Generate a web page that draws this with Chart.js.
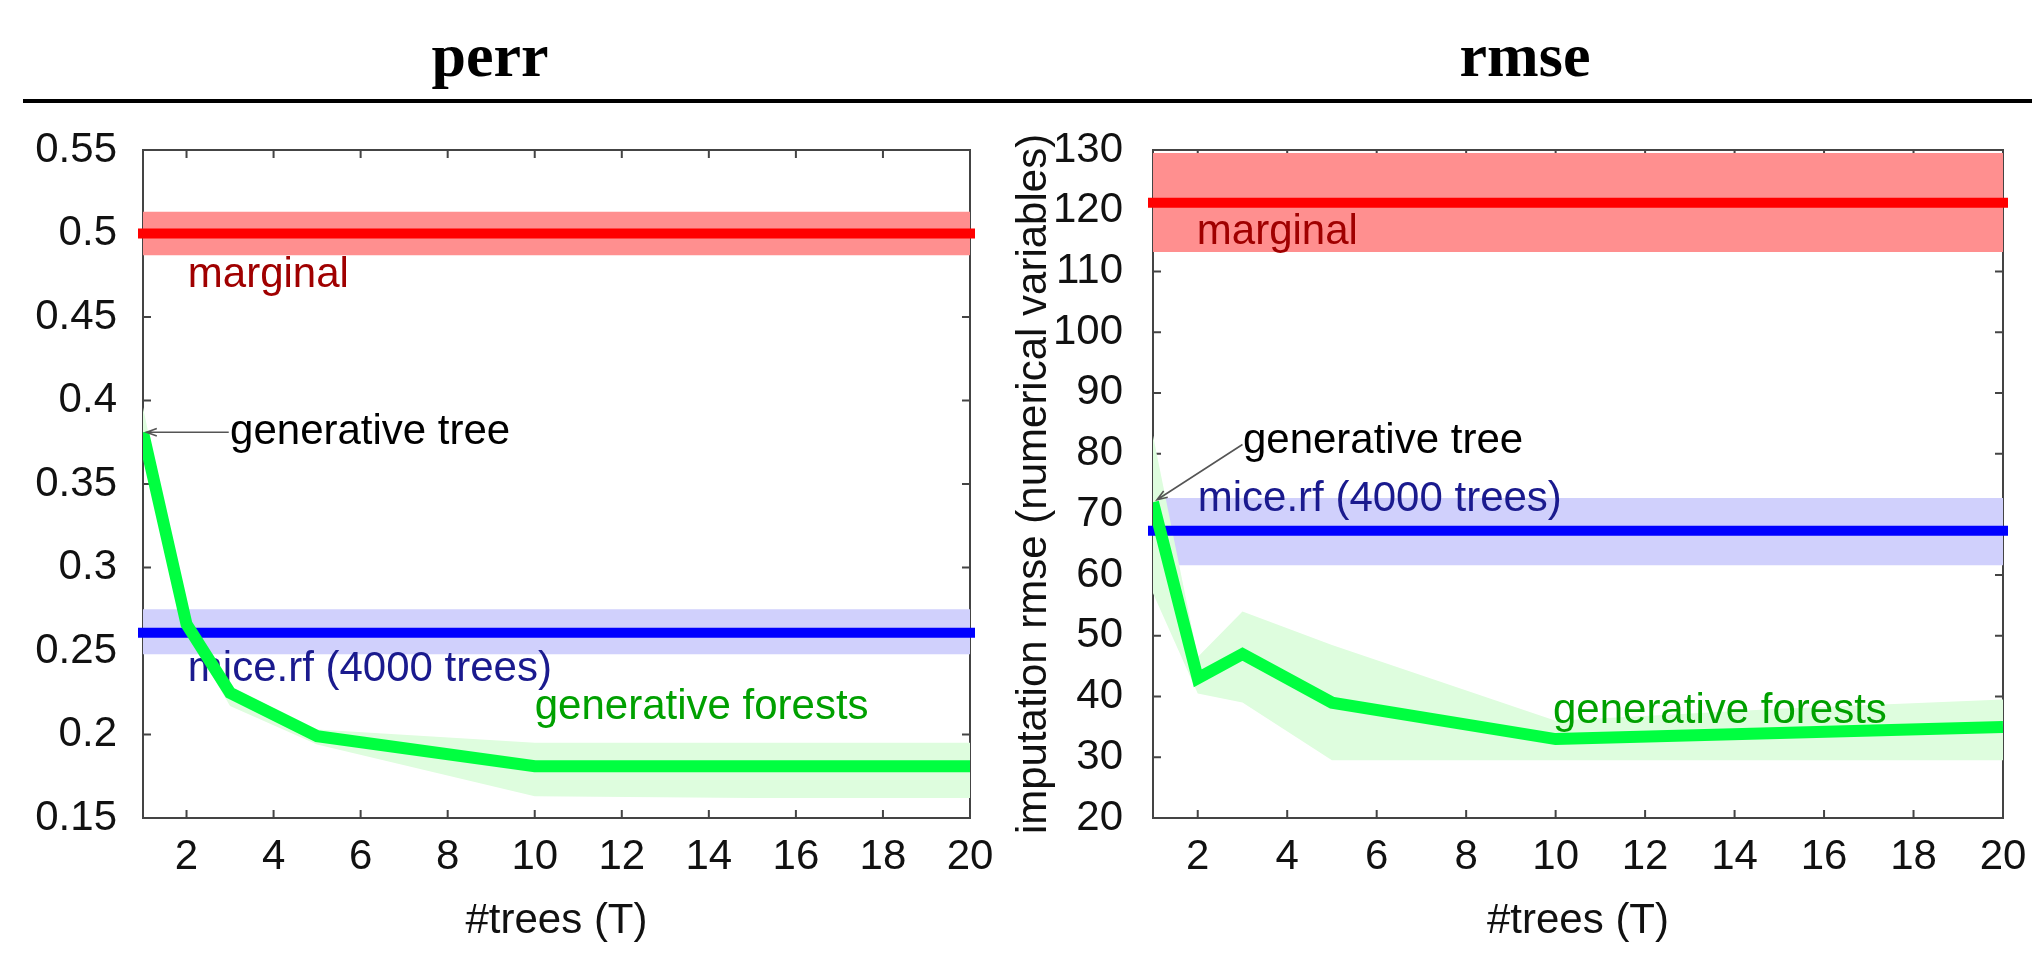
<!DOCTYPE html>
<html><head><meta charset="utf-8">
<script src="https://cdn.jsdelivr.net/npm/chart.js@4"></script>
<style>
body{margin:0;background:#fff;width:2032px;height:953px;overflow:hidden;position:relative;font-family:"Liberation Sans",Arial,sans-serif}
.title{position:absolute;top:24px;font-family:"Liberation Serif","Times New Roman",serif;font-weight:bold;font-size:62px;line-height:1;transform:translateX(-50%);color:#000}
#rule{position:absolute;left:23px;right:0;top:99px;height:4px;background:#000}
canvas{position:absolute}
</style></head><body>
<div class="title" style="left:490px">perr</div>
<div class="title" style="left:1525px">rmse</div>
<div id="rule"></div>
<canvas id="c1" width="1000" height="833" style="left:0;top:120px"></canvas>
<canvas id="c2" width="1032" height="833" style="left:1000px;top:120px"></canvas>
<script>
// ---------- data ----------
const treeCounts = [1, 2, 3, 5, 10, 15, 20];
const xTickValues = [2, 4, 6, 8, 10, 12, 14, 16, 18, 20];
const xRange = [1, 20];

// perr panel
const perrTicks = [0.15, 0.2, 0.25, 0.3, 0.35, 0.4, 0.45, 0.5, 0.55];
const perrForest = [0.381, 0.266, 0.225, 0.199, 0.181, 0.181, 0.181];
const perrForestHi = [0.396, 0.271, 0.229, 0.203, 0.195, 0.195, 0.195];
const perrForestLo = [0.368, 0.262, 0.217, 0.194, 0.163, 0.162, 0.162];
const perrMarginal = 0.5, perrMarginalLo = 0.487, perrMarginalHi = 0.513;
const perrMice = 0.261, perrMiceLo = 0.248, perrMiceHi = 0.275;

// rmse panel
const rmseTicks = [20, 30, 40, 50, 60, 70, 80, 90, 100, 110, 120, 130];
const rmseForest = [72, 43, 47, 39, 33, 34, 35];
const rmseForestHi = [83, 46.5, 54, 48.5, 36, 38, 39.5];
const rmseForestLo = [57, 40.5, 39, 29.5, 29.5, 29.5, 29.5];
const rmseMarginal = 121.3, rmseMarginalLo = 113.2, rmseMarginalHi = 129.5;
const rmseMice = 67.3, rmseMiceLo = 61.6, rmseMiceHi = 72.7;

// ---------- helpers ----------
const FONT = '"Liberation Sans", Arial, sans-serif';
const pts = (xs, ys) => xs.map((x, i) => ({x, y: ys[i]}));
const flat = v => xRange.map(x => ({x, y: v}));

const framePlugin = {
  id: 'frame',
  beforeDatasetsDraw(chart) {
    const {ctx, chartArea: a, scales: {x, y}} = chart;
    ctx.save();
    ctx.strokeStyle = '#444'; ctx.lineWidth = 2;
    ctx.strokeRect(a.left, a.top, a.right - a.left, a.bottom - a.top);
    ctx.beginPath();
    x.ticks.forEach(t => {
      const p = x.getPixelForValue(t.value);
      ctx.moveTo(p, a.bottom); ctx.lineTo(p, a.bottom - 8);
      ctx.moveTo(p, a.top); ctx.lineTo(p, a.top + 8);
    });
    y.ticks.forEach(t => {
      const p = y.getPixelForValue(t.value);
      ctx.moveTo(a.left, p); ctx.lineTo(a.left + 8, p);
      ctx.moveTo(a.right, p); ctx.lineTo(a.right - 8, p);
    });
    ctx.stroke();
    ctx.restore();
  }
};

const annotPlugin = {
  id: 'annot',
  afterDatasetDraw(chart, args, opts) {
    const ds = chart.data.datasets[args.index];
    if (!ds.labelsAfter) return;
    const {ctx, scales: {x, y}} = chart;
    ctx.save();
    ctx.font = '42px ' + FONT;
    ctx.textBaseline = 'middle'; ctx.textAlign = 'left';
    (opts.labels || []).forEach(l => {
      ctx.fillStyle = l.color;
      ctx.fillText(l.text, x.getPixelForValue(l.x), y.getPixelForValue(l.y));
    });
    ctx.restore();
  },
  afterDatasetsDraw(chart, args, opts) {
    const a = opts.arrow; if (!a) return;
    const {ctx, scales: {x, y}} = chart;
    const x0 = x.getPixelForValue(a.fromX), y0 = y.getPixelForValue(a.fromY);
    const x1 = x.getPixelForValue(a.toX), y1 = y.getPixelForValue(a.toY);
    const ang = Math.atan2(y1 - y0, x1 - x0), h = 11, w = 0.35;
    ctx.save();
    ctx.strokeStyle = '#555'; ctx.lineWidth = 1.6;
    ctx.beginPath();
    ctx.moveTo(x0, y0); ctx.lineTo(x1, y1);
    ctx.moveTo(x1 - h * Math.cos(ang - w), y1 - h * Math.sin(ang - w));
    ctx.lineTo(x1, y1);
    ctx.lineTo(x1 - h * Math.cos(ang + w), y1 - h * Math.sin(ang + w));
    ctx.stroke();
    ctx.restore();
  }
};

function makeChart(id, cfg) {
  const bandDs = (data, order, fill, color, extra) => Object.assign({
    data, order, fill, backgroundColor: color, borderColor: 'transparent',
    borderWidth: 0, pointRadius: 0, tension: 0
  }, extra || {});
  const lineDs = (data, order, color, width, extra) => Object.assign({
    data, order, fill: false, borderColor: color, borderWidth: width,
    pointRadius: 0, tension: 0, borderJoinStyle: 'miter'
  }, extra || {});
  const datasets = [
    bandDs(flat(cfg.margLo), 9, false, 'transparent'),                    // 0
    bandDs(flat(cfg.margHi), 9, '-1', 'rgb(255,143,143)'),                // 1
    bandDs(flat(cfg.miceLo), 8, false, 'transparent'),                    // 2
    bandDs(flat(cfg.miceHi), 8, '-1', 'rgb(208,208,252)'),                // 3
    bandDs(pts(treeCounts, cfg.forLo), 7, false, 'transparent'),          // 4
    bandDs(pts(treeCounts, cfg.forHi), 6, 4, 'rgb(222,253,222)', {labelsAfter: true}), // 5
    lineDs(flat(cfg.marg), 3, 'rgb(255,0,0)', 10, {borderCapStyle: 'square', clip: false}),
    lineDs(flat(cfg.mice), 2, 'rgb(0,0,255)', 10, {borderCapStyle: 'square', clip: false}),
    lineDs(pts(treeCounts, cfg.forest), 1, 'rgb(0,255,64)', 12)
  ];
  return new Chart(document.getElementById(id), {
    type: 'line',
    data: {datasets},
    plugins: [framePlugin, annotPlugin],
    options: {
      responsive: false, animation: false, devicePixelRatio: 1,
      layout: {padding: {top: 30, right: cfg.rightPad, left: 0, bottom: 0}},
      plugins: {
        legend: {display: false}, tooltip: {enabled: false},
        filler: {propagate: false},
        annot: {labels: cfg.labels, arrow: cfg.arrow}
      },
      scales: {
        x: {
          type: 'linear', min: xRange[0], max: xRange[1],
          afterBuildTicks: s => { s.ticks = xTickValues.map(v => ({value: v})); },
          afterFit: s => { s.height = 135; s.paddingLeft = 0; s.paddingRight = 0; },
          grid: {display: false, drawTicks: false}, border: {display: false},
          ticks: {padding: 14, color: '#111', font: {family: FONT, size: 42}, maxRotation: 0, autoSkip: false},
          title: {display: true, text: '#trees (T)', color: '#111', font: {family: FONT, size: 42}, padding: {top: 0, bottom: 6}}
        },
        y: {
          type: 'linear', min: cfg.yTicks[0], max: cfg.yTicks[cfg.yTicks.length - 1],
          afterBuildTicks: s => { s.ticks = cfg.yTicks.map(v => ({value: v})); },
          afterFit: s => { s.width = cfg.yWidth; s.paddingTop = 0; s.paddingBottom = 0; },
          grid: {display: false, drawTicks: false}, border: {display: false},
          ticks: {padding: cfg.yPad, color: '#111', font: {family: FONT, size: 42}, autoSkip: false,
                  callback: v => String(v)},
          title: cfg.yTitle ? {display: true, text: cfg.yTitle, color: '#111', font: {family: FONT, size: 42}, padding: {top: 9, bottom: 0}} : {display: false}
        }
      }
    }
  });
}

makeChart('c1', {
  yTicks: perrTicks, yWidth: 143, yPad: 26, rightPad: 30,
  forest: perrForest, forHi: perrForestHi, forLo: perrForestLo,
  marg: perrMarginal, margLo: perrMarginalLo, margHi: perrMarginalHi,
  mice: perrMice, miceLo: perrMiceLo, miceHi: perrMiceHi,
  labels: [
    {text: 'marginal', x: 2.03, y: 0.475, color: '#a00000'},
    {text: 'generative tree', x: 3.0, y: 0.381, color: '#000'},
    {text: 'mice.rf (4000 trees)', x: 2.03, y: 0.239, color: '#1a1a8e'},
    {text: 'generative forests', x: 10.0, y: 0.216, color: '#00a000'}
  ],
  arrow: {fromX: 2.97, fromY: 0.381, toX: 1.08, toY: 0.381}
});

makeChart('c2', {
  yTicks: rmseTicks, yWidth: 153, yPad: 30, rightPad: 29,
  yTitle: 'imputation rmse (numerical variables)',
  forest: rmseForest, forHi: rmseForestHi, forLo: rmseForestLo,
  marg: rmseMarginal, margLo: rmseMarginalLo, margHi: rmseMarginalHi,
  mice: rmseMice, miceLo: rmseMiceLo, miceHi: rmseMiceHi,
  labels: [
    {text: 'marginal', x: 1.98, y: 116.5, color: '#a00000'},
    {text: 'generative tree', x: 3.01, y: 82.0, color: '#000'},
    {text: 'mice.rf (4000 trees)', x: 2.0, y: 72.5, color: '#1a1a8e'},
    {text: 'generative forests', x: 9.94, y: 37.5, color: '#00a000'}
  ],
  arrow: {fromX: 3.0, fromY: 81.5, toX: 1.09, toY: 72.4}
});
</script>
</body></html>
